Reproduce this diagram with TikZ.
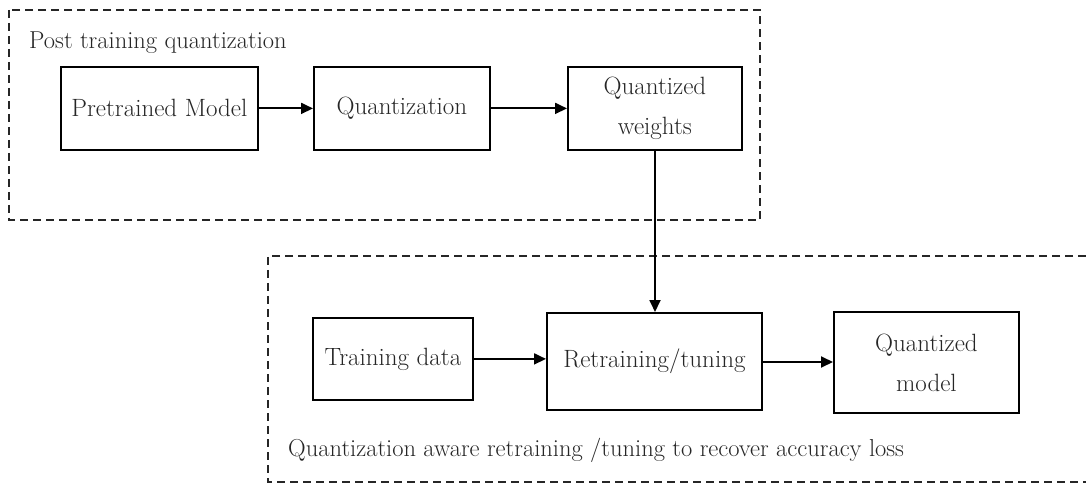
\documentclass[tikz,border=0pt]{standalone}
\usetikzlibrary{arrows.meta}
\begin{document}
\begin{tikzpicture}[x=1pt,y=-1pt,
  blk/.style={draw=black,line width=1.8pt,inner sep=0pt,anchor=north west,align=center,
    font=\fontsize{25}{40}\selectfont,text=black!85},
  grp/.style={draw=black!85,line width=1.7pt,dash pattern=on 8pt off 5pt},
  lbl/.style={font=\fontsize{24.5}{28}\selectfont,text=black!85,anchor=west,inner sep=0pt},
  arr/.style={line width=1.8pt,-{Triangle[length=12pt,width=11pt]}}]
\useasboundingbox (0,0) rectangle (1086,486);
% groups
\draw[grp] (9,10) rectangle (760,220);
\coordinate (bR1) at (1086,256);
\coordinate (bR2) at (1086,482);
\draw[grp] (bR1) -- (268,256) -- (268,482) -- (bR2);
\node[lbl] (t1) at (29,43) {Post training quantization};
\node[lbl] (t2) at (288,450) {Quantization aware retraining /tuning to recover accuracy loss};
% blocks
\node[blk,minimum width=197pt,minimum height=83pt] (pm) at (60,66) {Pretrained Model};
\node[blk,minimum width=176pt,minimum height=83pt] (qz) at (313,66) {Quantization};
\node[blk,minimum width=174pt,minimum height=83pt] (qw) at (567,66) {Quantized\\weights};
\node[blk,minimum width=160pt,minimum height=82pt] (td) at (312,317) {Training data};
\node[blk,minimum width=215pt,minimum height=97pt] (rt) at (546,312) {Retraining/tuning};
\node[blk,minimum width=185pt,minimum height=101pt] (qm) at (833,311) {Quantized\\model};
% arrows
\draw[arr] (pm.east) -- (qz.west);
\draw[arr] (qz.east) -- (qw.west);
\draw[arr] (qw.south -| 655,0) -- (rt.north -| 655,0);
\draw[arr] (td.east) -- (td.east -| rt.west);
\draw[arr] (rt.east |- 0,362) -- (qm.west |- 0,362);
\end{tikzpicture}
\end{document}
